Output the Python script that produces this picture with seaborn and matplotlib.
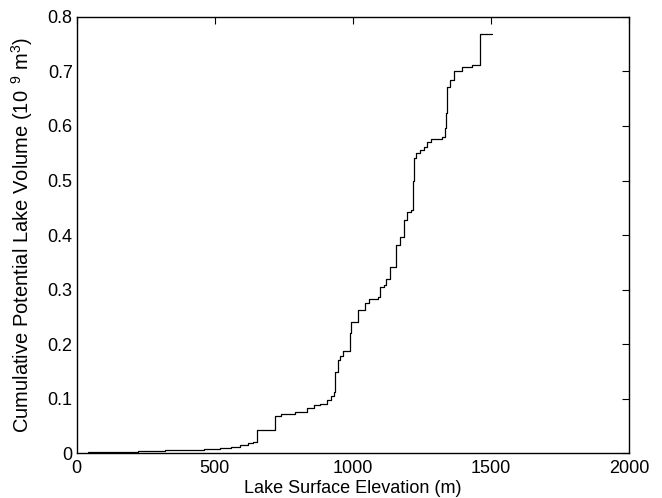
import matplotlib
matplotlib.use("Agg")
import matplotlib.pyplot as plt
import seaborn as sns
import pandas as pd

# elevación (m) y volumen acumulado (10^9 m^3), escalones
elevacion = [40, 120, 220, 320, 400, 460, 520, 560, 590, 620, 640, 653, 719,
             740, 790, 835, 860, 880, 905, 920, 930, 937, 945, 952, 965, 991,
             994, 1017, 1045, 1058, 1090, 1100, 1112, 1121, 1133, 1155, 1170,
             1187, 1195, 1209, 1217, 1220, 1230, 1245, 1257, 1270, 1282, 1324,
             1333, 1338, 1342, 1352, 1366, 1397, 1433, 1460, 1503]
volumen = [0.002, 0.003, 0.004, 0.005, 0.006, 0.008, 0.010, 0.012, 0.015,
           0.018, 0.021, 0.042, 0.069, 0.071, 0.076, 0.082, 0.088, 0.090,
           0.097, 0.104, 0.112, 0.148, 0.170, 0.178, 0.188, 0.220, 0.240,
           0.262, 0.275, 0.282, 0.287, 0.304, 0.308, 0.320, 0.342, 0.382,
           0.396, 0.428, 0.443, 0.446, 0.500, 0.541, 0.551, 0.556, 0.562,
           0.570, 0.576, 0.580, 0.596, 0.623, 0.672, 0.684, 0.700, 0.709,
           0.711, 0.768, 0.768]

df = pd.DataFrame({'Elevacion': elevacion, 'Volumen': volumen})

sns.set_theme(style='white')
plt.rcParams['font.family'] = ['Liberation Sans', 'DejaVu Sans']
plt.rcParams['mathtext.default'] = 'regular'
plt.rcParams['xtick.direction'] = 'in'
plt.rcParams['ytick.direction'] = 'in'

fig = plt.figure(figsize=(6.62, 4.98), dpi=100)
ax = fig.add_axes([0.116, 0.090, 0.834, 0.876])

sns.lineplot(data=df, x='Elevacion', y='Volumen', ax=ax, color='black',
             linewidth=0.9, drawstyle='steps-post', estimator=None, sort=False)

ax.set_xlim(0, 2000)
ax.set_ylim(0, 0.8)
ax.set_xticks([0, 500, 1000, 1500, 2000])
ax.set_yticks([0, 0.1, 0.2, 0.3, 0.4, 0.5, 0.6, 0.7, 0.8])
ax.set_yticklabels(['0', '0.1', '0.2', '0.3', '0.4', '0.5', '0.6', '0.7', '0.8'])
ax.tick_params(axis='both', which='both', top=True, right=True, length=5,
               width=0.8, color='black', labelsize=13, labelcolor='black')
ax.tick_params(axis='x', pad=5)
ax.tick_params(axis='y', pad=3)
for s in ax.spines.values():
    s.set_color('black')
    s.set_linewidth(1.0)

ax.set_xlabel('Lake Surface Elevation (m)', fontsize=13, labelpad=2, color='black')
ax.set_ylabel(r'Cumulative Potential Lake Volume (10$^{\ \,9}$ m$^3$)', fontsize=14.5,
              labelpad=9, color='black')

fig.savefig('out.png', dpi=100)
